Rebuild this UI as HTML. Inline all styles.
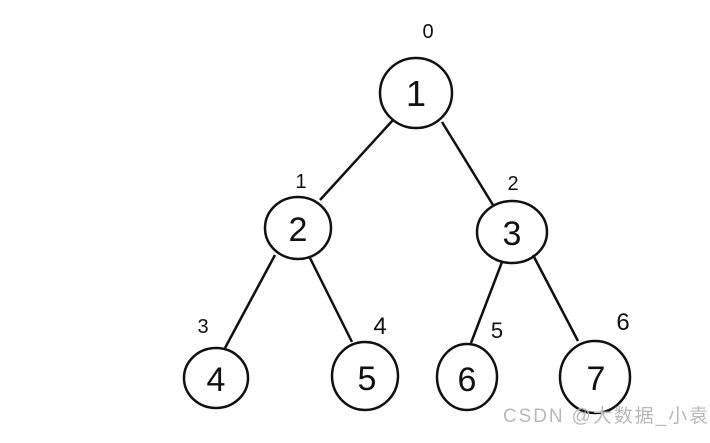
<!DOCTYPE html>
<html><head><style>body{margin:0;background:#fff}</style></head><body>
<svg width="710" height="438" xmlns="http://www.w3.org/2000/svg">
<rect width="710" height="438" fill="#fff"/>
<g fill="none" stroke="#111" stroke-width="2.5">
<ellipse cx="416" cy="93" rx="36" ry="35"/>
<ellipse cx="298" cy="228" rx="33" ry="31"/>
<ellipse cx="512" cy="232" rx="35" ry="31"/>
<ellipse cx="216" cy="378" rx="32" ry="30"/>
<ellipse cx="365" cy="376" rx="33" ry="34"/>
<ellipse cx="467" cy="377" rx="30" ry="33"/>
<ellipse cx="595" cy="377" rx="35" ry="36"/>
<line x1="393" y1="120" x2="320" y2="200"/>
<line x1="442" y1="122" x2="493" y2="205"/>
<line x1="275" y1="255" x2="225" y2="348"/>
<line x1="310" y1="258" x2="352" y2="342"/>
<line x1="502" y1="262" x2="471" y2="343"/>
<line x1="533" y1="255" x2="578" y2="341"/>
</g>
<g font-family="Liberation Sans, sans-serif" fill="#111" text-anchor="middle">
<text x="416" y="106" font-size="36">1</text>
<text x="298" y="241" font-size="34">2</text>
<text x="512" y="245" font-size="34">3</text>
<text x="216" y="391" font-size="34">4</text>
<text x="367" y="390" font-size="34">5</text>
<text x="467" y="391" font-size="34">6</text>
<text x="596" y="390" font-size="34">7</text>
<text x="428" y="38" font-size="20">0</text>
<text x="301" y="188" font-size="20">1</text>
<text x="513" y="190" font-size="20">2</text>
<text x="203" y="333" font-size="20">3</text>
<text x="380" y="334" font-size="24">4</text>
<text x="497" y="338" font-size="22">5</text>
<text x="623" y="330" font-size="24">6</text>
</g>
<text x="503" y="422" font-family="Liberation Sans, Noto Sans CJK SC, sans-serif" font-size="19" fill="#b8b8b8" textLength="205">CSDN @大数据_小袁</text>
</svg>
</body></html>
